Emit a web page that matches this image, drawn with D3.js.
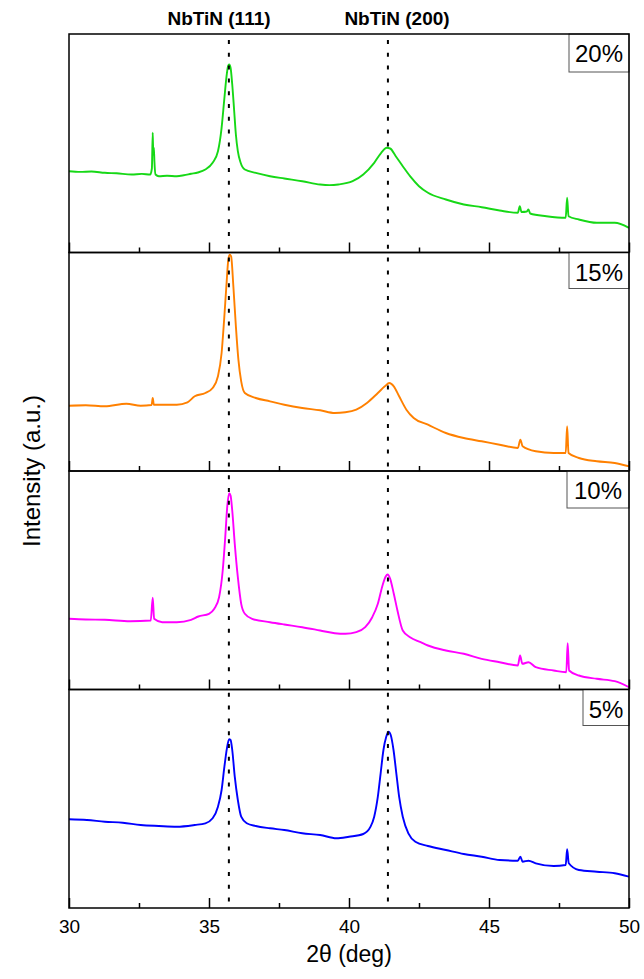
<!DOCTYPE html>
<html>
<head>
<meta charset="utf-8">
<script src="https://cdn.jsdelivr.net/npm/d3@7"></script>
<style>
  html, body { margin: 0; padding: 0; background: #fff; }
  svg { display: block; font-family: Arial, "Liberation Sans", sans-serif; }
</style>
</head>
<body>
<svg id="chart" width="644" height="979"></svg>
<script>
// ---- data (2θ in degrees, intensity in arbitrary units) ----
const sampleLabels = ["20%", "15%", "10%", "5%"];
const xTicks = [30, 35, 40, 45, 50];
const xMinorTicks = [32.5, 37.5, 42.5, 47.5];
const peakPositions = [35.71, 41.39];
const peakLabels = ["NbTiN (111)", "NbTiN (200)"];

const xrd20 = [[30.00,81.3],[30.40,80.6],[30.80,81.0],[31.28,79.7],[31.70,79.2],[32.24,78.0],[32.60,78.6],[32.90,78.0],[32.96,84.0],[32.99,119.7],[33.01,98.0],[33.03,104.7],[33.05,91.3],[33.09,78.0],[33.21,76.3],[33.50,76.8],[33.85,76.3],[34.10,77.2],[34.36,78.7],[34.60,80.0],[34.87,83.0],[35.13,89.7],[35.32,101.3],[35.45,124.7],[35.54,151.3],[35.62,174.7],[35.68,186.3],[35.72,188.0],[35.77,184.7],[35.83,168.0],[35.90,141.3],[35.96,118.0],[36.03,101.3],[36.13,89.7],[36.28,83.0],[36.67,79.7],[37.18,76.3],[37.69,74.0],[38.33,71.3],[38.97,68.0],[39.30,67.4],[39.62,68.0],[40.13,71.3],[40.51,78.0],[40.90,89.7],[41.15,99.7],[41.35,104.7],[41.47,104.0],[41.67,96.3],[41.92,86.3],[42.18,76.3],[42.50,66.3],[42.82,59.7],[43.46,53.0],[44.10,48.0],[44.74,45.3],[45.38,42.0],[46.03,39.7],[46.10,46.3],[46.16,40.5],[46.35,41.0],[46.41,43.0],[46.47,39.0],[47.05,36.3],[47.74,34.7],[47.79,54.7],[47.84,36.3],[48.21,33.0],[48.85,29.7],[49.49,29.7],[50.00,24.7]];

const xrd15 = [[30.00,65.3],[30.60,65.8],[31.28,64.7],[32.05,67.3],[32.56,65.3],[32.95,66.0],[32.99,73.0],[33.03,66.3],[33.85,66.3],[34.23,68.7],[34.49,74.7],[34.87,78.0],[35.13,83.0],[35.32,94.7],[35.45,118.0],[35.54,151.3],[35.62,184.7],[35.69,211.3],[35.74,216.3],[35.79,214.7],[35.87,184.7],[35.96,144.7],[36.05,111.3],[36.15,89.7],[36.28,78.0],[36.67,73.0],[37.18,69.7],[37.69,66.3],[38.33,63.0],[38.97,60.7],[39.49,58.0],[39.87,58.7],[40.26,61.3],[40.64,68.0],[41.03,78.0],[41.28,84.7],[41.44,88.0],[41.60,84.7],[41.79,74.7],[42.05,61.3],[42.31,53.0],[42.82,46.3],[43.46,38.0],[44.10,33.0],[44.74,29.7],[45.38,26.3],[46.03,23.0],[46.12,31.3],[46.20,24.7],[46.67,19.7],[47.31,18.0],[47.74,18.0],[47.79,44.7],[47.84,18.0],[48.21,13.0],[48.85,9.7],[49.49,8.0],[50.00,4.7]];

const xrd10 = [[30.00,70.7],[30.60,70.0],[31.28,69.7],[32.18,68.3],[32.92,69.0],[32.99,91.7],[33.04,70.7],[33.33,67.3],[33.85,67.3],[34.36,69.7],[34.62,73.0],[35.00,75.7],[35.19,80.7],[35.36,92.3],[35.49,119.0],[35.58,152.3],[35.65,182.3],[35.72,196.3],[35.77,194.0],[35.83,179.0],[35.92,145.7],[36.03,112.3],[36.15,85.7],[36.28,75.7],[36.54,70.7],[37.18,67.3],[37.69,65.0],[38.33,62.3],[38.97,59.0],[39.49,56.3],[39.87,55.7],[40.26,57.3],[40.58,62.3],[40.83,72.3],[41.03,85.7],[41.18,102.3],[41.31,113.0],[41.38,115.0],[41.47,110.7],[41.60,95.7],[41.73,79.0],[41.92,59.0],[42.18,52.3],[42.56,47.3],[42.82,44.0],[43.46,39.0],[44.10,35.7],[44.74,30.7],[45.38,27.3],[46.03,24.0],[46.11,34.0],[46.19,25.7],[46.41,27.3],[46.67,22.3],[47.31,19.0],[47.76,17.3],[47.81,46.3],[47.86,19.0],[48.21,14.0],[48.85,10.7],[49.49,8.3],[50.00,2.3]];

const xrd5 = [[30.00,88.7],[30.64,88.0],[31.28,86.3],[31.92,85.3],[32.56,83.0],[33.21,82.0],[33.85,81.3],[34.49,83.0],[34.87,84.7],[35.13,89.7],[35.32,101.3],[35.45,118.0],[35.55,141.3],[35.64,159.7],[35.72,168.7],[35.77,168.0],[35.83,158.0],[35.92,131.3],[36.03,108.0],[36.15,91.3],[36.35,84.7],[36.67,82.0],[37.18,79.7],[37.69,78.0],[38.33,74.7],[38.97,73.0],[39.55,69.7],[40.00,71.3],[40.51,74.0],[40.77,81.3],[40.90,91.3],[41.03,111.3],[41.13,134.7],[41.23,158.0],[41.33,171.3],[41.41,176.3],[41.49,173.0],[41.59,158.0],[41.69,134.7],[41.79,111.3],[41.92,91.3],[42.12,74.7],[42.37,66.3],[42.82,62.0],[43.46,58.0],[44.10,54.0],[44.74,51.3],[45.38,48.0],[46.03,47.3],[46.12,51.3],[46.20,46.3],[46.41,47.3],[46.67,44.7],[47.31,42.0],[47.74,43.0],[47.79,58.7],[47.85,44.7],[48.21,38.0],[48.85,36.3],[49.49,34.7],[50.00,31.3]];

const seriesList = [xrd20, xrd15, xrd10, xrd5];
const seriesColors = ["#16d816", "#ff8000", "#ff00ff", "#0000ff"];

// ---- layout ----
const svg = d3.select("#chart");
const plotLeft = 69, plotRight = 629, plotTop = 34, plotBottom = 908;
const nPanels = seriesList.length;
const panelH = (plotBottom - plotTop) / nPanels;

const x = d3.scaleLinear().domain([30, 50]).range([plotLeft, plotRight]);

const defs = svg.append("defs");

seriesList.forEach((data, i) => {
  const pTop = plotTop + i * panelH;
  const pBot = pTop + panelH;
  const y = d3.scaleLinear().domain([0, panelH]).range([pBot, pTop]);

  defs.append("clipPath").attr("id", "clip" + i)
    .append("rect").attr("x", plotLeft).attr("y", pTop).attr("width", plotRight - plotLeft).attr("height", panelH);

  const line = d3.line().x(d => x(d[0])).y(d => y(d[1])).curve(d3.curveMonotoneX);
  svg.append("path")
    .datum(data)
    .attr("clip-path", "url(#clip" + i + ")")
    .attr("fill", "none")
    .attr("stroke", seriesColors[i])
    .attr("stroke-width", 1.9)
    .attr("stroke-linejoin", "round")
    .attr("d", line);

  // inward ticks on the bottom of each panel
  const axMajor = d3.axisTop(x).tickValues(xTicks).tickSize(10).tickFormat("");
  const axMinor = d3.axisTop(x).tickValues(xMinorTicks).tickSize(5).tickFormat("");
  const gM = svg.append("g").attr("transform", `translate(0,${pBot})`).call(axMajor);
  const gm = svg.append("g").attr("transform", `translate(0,${pBot})`).call(axMinor);
  [gM, gm].forEach(g => {
    g.select(".domain").remove();
    g.selectAll("line").attr("stroke", "#000").attr("stroke-width", 1.5);
  });
});

// dotted reference lines
peakPositions.forEach(p => {
  svg.append("line")
    .attr("x1", x(p)).attr("x2", x(p))
    .attr("y1", 40).attr("y2", plotBottom)
    .attr("stroke", "#000").attr("stroke-width", 2)
    .attr("stroke-dasharray", "4,8.8");
});

// panel frames and labels
const boxWidths = [60, 60, 62, 46];
const boxHeights = [38, 36, 37, 36];
seriesList.forEach((data, i) => {
  const pTop = plotTop + i * panelH;
  svg.append("rect")
    .attr("x", plotRight - boxWidths[i]).attr("y", pTop)
    .attr("width", boxWidths[i]).attr("height", boxHeights[i])
    .attr("fill", "#fff").attr("stroke", "#555").attr("stroke-width", 1);
  svg.append("rect")
    .attr("x", plotLeft).attr("y", pTop)
    .attr("width", plotRight - plotLeft).attr("height", panelH)
    .attr("fill", "none").attr("stroke", "#000").attr("stroke-width", 1.5);
  svg.append("text")
    .attr("x", plotRight - boxWidths[i] / 2).attr("y", pTop + 28)
    .attr("text-anchor", "middle")
    .attr("font-size", 24)
    .attr("fill", "#000")
    .text(sampleLabels[i]);
});

// bottom axis labels
const axisB = d3.axisBottom(x).tickValues(xTicks).tickSize(0).tickPadding(12).tickFormat(d3.format("d"));
const gB = svg.append("g").attr("transform", `translate(0,${plotBottom})`).call(axisB);
gB.select(".domain").remove();
gB.selectAll("text").attr("font-size", 19).attr("font-family", "Arial, 'Liberation Sans', sans-serif").attr("fill", "#000");

// peak annotations
const annX = [219, 397];
peakLabels.forEach((t, i) => {
  svg.append("text")
    .attr("x", annX[i]).attr("y", 25)
    .attr("text-anchor", "middle")
    .attr("font-size", 19)
    .attr("font-weight", "bold")
    .attr("fill", "#000")
    .text(t);
});

// axis titles
svg.append("text")
  .attr("x", (plotLeft + plotRight) / 2).attr("y", 962)
  .attr("text-anchor", "middle")
  .attr("font-size", 23)
  .attr("fill", "#000")
  .text("2θ (deg)");

svg.append("text")
  .attr("transform", `translate(40,${(plotTop + plotBottom) / 2}) rotate(-90)`)
  .attr("text-anchor", "middle")
  .attr("font-size", 24)
  .attr("fill", "#000")
  .text("Intensity (a.u.)");
</script>
</body>
</html>
